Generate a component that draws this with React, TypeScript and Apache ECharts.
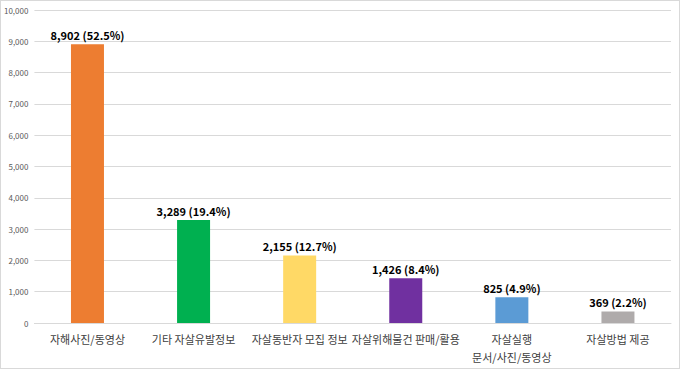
import React, { useEffect, useRef } from "react";
import * as echarts from "echarts";

const categories = ["자해사진/동영상", "기타 자살유발정보", "자살동반자 모집 정보", "자살위해물건 판매/활용", "자살실행\n문서/사진/동영상", "자살방법 제공"];
const values = [8902, 3289, 2155, 1426, 825, 369];
const percents = ["52.5%", "19.4%", "12.7%", "8.4%", "4.9%", "2.2%"];
const colors = ["#ED7D31", "#00B050", "#FFD966", "#7030A0", "#5B9BD5", "#AFABAB"];

const FONT = "'Noto Sans CJK KR', 'Noto Sans', sans-serif";

export default function App() {
  const ref = useRef<HTMLDivElement>(null);
  useEffect(() => {
    document.body.style.margin = "0";
    const chart = echarts.init(ref.current!, undefined, { renderer: "svg" });
    chart.setOption({
      animation: false,
      grid: { left: 33, right: 8, top: 9, bottom: 45 },
      xAxis: {
        type: "category",
        data: categories,
        axisLine: { show: true, lineStyle: { color: "#d9d9d9" } },
        axisTick: { show: false },
        axisLabel: { color: "#404040", fontSize: 11, fontFamily: FONT, margin: 7, lineHeight: 18, interval: 0 },
      },
      yAxis: {
        type: "value",
        min: 0,
        max: 10000,
        interval: 1000,
        axisLine: { show: false },
        axisTick: { show: false },
        splitLine: { lineStyle: { color: "#d9d9d9" } },
        axisLabel: {
          color: "#595959",
          fontSize: 8,
          fontFamily: FONT,
          margin: 6,
          formatter: (v: number) => v.toLocaleString("en-US"),
        },
      },
      series: [
        {
          type: "bar",
          barWidth: 33,
          data: values.map((v, i) => ({ value: v, itemStyle: { color: colors[i] } })),
          label: {
            show: true,
            position: "top",
            distance: 4,
            color: "#000",
            fontSize: 11,
            fontWeight: "bold",
            fontFamily: FONT,
            formatter: (p: any) => `${values[p.dataIndex].toLocaleString("en-US")} (${percents[p.dataIndex]})`,
          },
        },
      ],
    });
    return () => chart.dispose();
  }, []);
  return (
    <div
      ref={ref}
      style={{ width: 680, height: 369, boxSizing: "border-box", border: "1px solid #d9d9d9", background: "#fff" }}
    />
  );
}
